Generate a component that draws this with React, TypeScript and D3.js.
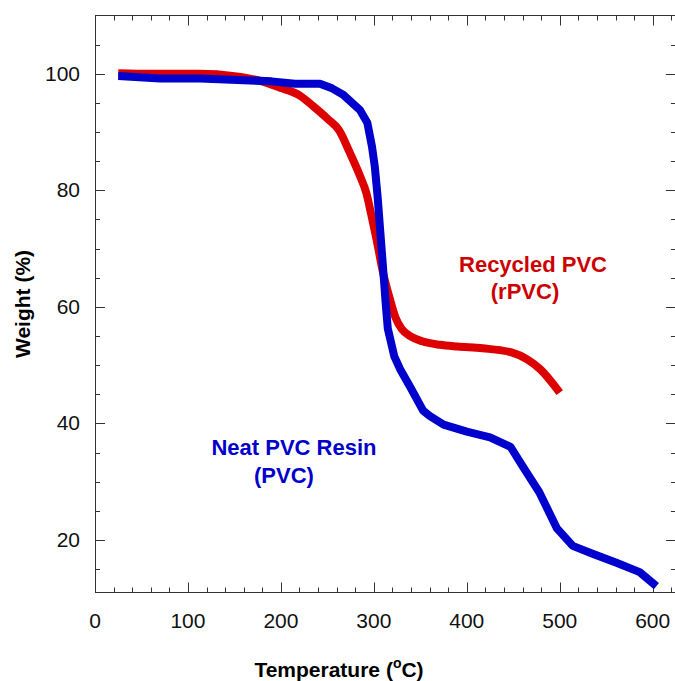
import React from "react";
import * as d3 from "d3";

const rpvcTemp = [25, 60, 113, 150, 175, 199, 220, 235, 250, 263, 274, 285, 292, 297, 303, 310, 317, 323, 330, 340, 352, 371, 390, 417, 448, 465, 479, 500];
const rpvcWeight = [100.1, 100.0, 100.0, 99.6, 98.9, 97.6, 96.3, 94.4, 92.3, 90.2, 86.5, 82.5, 79.5, 76.0, 71.5, 65.8, 61.5, 58.3, 56.2, 54.9, 54.1, 53.5, 53.2, 52.9, 52.2, 51.0, 49.3, 45.3];

const pvcTemp = [25, 70, 113, 160, 190, 215, 242, 255, 267, 285, 293, 298, 301, 304, 309, 313, 315, 322, 328, 340, 353, 360, 375, 400, 425, 447, 460, 478, 497, 514, 536, 561, 586, 604];
const pvcWeight = [99.6, 99.2, 99.2, 98.9, 98.7, 98.3, 98.3, 97.5, 96.4, 93.8, 91.6, 87.5, 84.1, 79.0, 68.6, 60.1, 56.3, 51.5, 49.4, 46.0, 42.2, 41.3, 39.8, 38.6, 37.6, 36.0, 32.7, 28.2, 22.0, 19.0, 17.6, 16.1, 14.5, 12.1];

const xMajorTicks = [0, 100, 200, 300, 400, 500, 600];
const yMajorTicks = [20, 40, 60, 80, 100];

const RED = "#dd0000";
const BLUE = "#0000cc";
const AXIS = "#333";
const FONT = "'Liberation Sans', Arial, Helvetica, sans-serif";

export default function App() {
  const W = 675;
  const H = 681;
  const left = 95;
  const top = 15.5;
  const bottom = 592.5;
  const x = d3.scaleLinear().domain([0, 625]).range([left, left + 625 * 0.9295]);
  const y = d3.scaleLinear().domain([11, 110]).range([bottom, top]);
  const right = x(625);

  const xMinor = d3.range(0, 621, 20);
  const yMinor = d3.range(15, 110, 5);

  const lineLinear = d3
    .line<[number, number]>()
    .x((d) => x(d[0]))
    .y((d) => y(d[1]));
  const lineSmooth = d3
    .line<[number, number]>()
    .x((d) => x(d[0]))
    .y((d) => y(d[1]))
    .curve(d3.curveMonotoneX);

  const rData = rpvcTemp.map((t, i) => [t, rpvcWeight[i]] as [number, number]);
  const pData = pvcTemp.map((t, i) => [t, pvcWeight[i]] as [number, number]);

  return (
    <svg
      width={W}
      height={H}
      style={{ position: "absolute", left: 0, top: 0, background: "#fff" }}
      fontFamily={FONT}
    >
      <rect x={0} y={0} width={W} height={H} fill="#fff" />
      {/* frame */}
      <g stroke={AXIS} strokeWidth={1} fill="none">
        <line x1={left + 0.5} x2={left + 0.5} y1={top} y2={bottom} />
        <line x1={left} x2={right} y1={bottom} y2={bottom} />
        <line x1={left} x2={right} y1={top} y2={top} />
        <line x1={right} x2={right} y1={top} y2={bottom} />
        {xMinor.map((t) => {
          const major = t % 100 === 0;
          const len = major ? 10 : 5;
          const px = Math.round(x(t)) + 0.5;
          return (
            <g key={"x" + t}>
              <line x1={px} x2={px} y1={bottom} y2={bottom - len} />
              <line x1={px} x2={px} y1={top} y2={top + len} />
            </g>
          );
        })}
        {yMinor.map((t) => {
          const major = t % 20 === 0;
          const len = major ? 10 : 5;
          const py = Math.round(y(t)) + 0.5;
          return (
            <g key={"y" + t}>
              <line x1={left} x2={left + len} y1={py} y2={py} />
              <line x1={right} x2={right - len} y1={py} y2={py} />
            </g>
          );
        })}
      </g>
      {/* tick labels */}
      <g fontSize={21} fill="#111">
        {xMajorTicks.map((t) => (
          <text key={"xl" + t} x={x(t)} y={628} textAnchor="middle">
            {t}
          </text>
        ))}
        {yMajorTicks.map((t) => (
          <text key={"yl" + t} x={80} y={y(t) + 7} textAnchor="end">
            {t}
          </text>
        ))}
      </g>
      {/* curves */}
      <path d={lineSmooth(rData) || ""} fill="none" stroke={RED} strokeWidth={8} strokeLinejoin="round" />
      <path d={lineLinear(pData) || ""} fill="none" stroke={BLUE} strokeWidth={8} strokeLinejoin="round" />
      {/* annotations */}
      <g fontSize={22} fontWeight="bold">
        <text x={533} y={272} textAnchor="middle" fill="#cc0000">
          Recycled PVC
        </text>
        <text x={525} y={299} textAnchor="middle" fill="#cc0000">
          (rPVC)
        </text>
        <text x={294} y={455} textAnchor="middle" fill={BLUE}>
          Neat PVC Resin
        </text>
        <text x={284} y={483} textAnchor="middle" fill={BLUE}>
          (PVC)
        </text>
      </g>
      {/* axis titles */}
      <g fontSize={21} fontWeight="bold" fill="#000">
        <text transform={`translate(30, ${(top + bottom) / 2}) rotate(-90)`} textAnchor="middle">
          Weight (%)
        </text>
        <text x={339} y={677} textAnchor="middle">
          Temperature (
          <tspan fontSize={14} dy={-9}>o</tspan>
          <tspan dy={9}>C)</tspan>
        </text>
      </g>
    </svg>
  );
}
